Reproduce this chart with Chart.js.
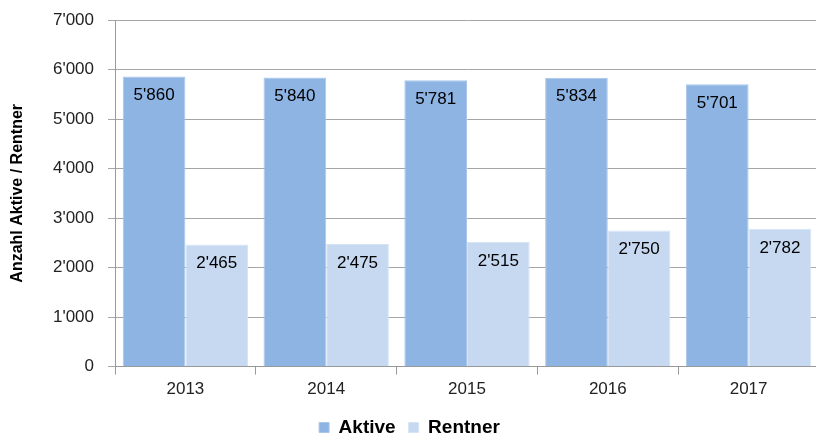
<!DOCTYPE html>
<html><head><meta charset="utf-8">
<script src="https://cdn.jsdelivr.net/npm/chart.js@4"></script>
<style>html,body{margin:0;padding:0;background:#fff;overflow:hidden;}#wrap{width:816px;height:433px;overflow:hidden;}</style>
</head><body><div id="wrap"><canvas id="c" width="819" height="433"></canvas></div>
<script>
const years = ['2013','2014','2015','2016','2017'];
const aktive = [5860, 5840, 5781, 5834, 5701];
const rentner = [2465, 2475, 2515, 2750, 2782];
const yTicks = [0,1000,2000,3000,4000,5000,6000,7000];
const fmt = v => String(v).replace(/\B(?=(\d{3})+(?!\d))/g, "'");
const font = "'Liberation Sans', Arial, sans-serif";

const labelPlugin = {
  id: 'barLabels',
  afterDatasetsDraw(chart) {
    const ctx = chart.ctx;
    ctx.save();
    ctx.font = '17px ' + font;
    ctx.fillStyle = '#000';
    ctx.textAlign = 'center';
    ctx.textBaseline = 'middle';
    chart.data.datasets.forEach((ds, i) => {
      chart.getDatasetMeta(i).data.forEach((bar, j) => {
        ctx.fillText(fmt(ds.data[j]), bar.x, bar.y + 19);
      });
    });
    ctx.restore();
  }
};

new Chart(document.getElementById('c'), {
  type: 'bar',
  data: {
    labels: years,
    datasets: [
      {label: 'Aktive', data: aktive, backgroundColor: '#8EB4E3', borderColor: '#A9C6EA', borderWidth: 1},
      {label: 'Rentner', data: rentner, backgroundColor: '#C6D9F1', borderColor: '#D6E3F5', borderWidth: 1}
    ]
  },
  options: {
    responsive: false,
    animation: false,
    devicePixelRatio: 1,
    layout: {padding: {left: 0, right: 0, top: 20, bottom: -14}},
    datasets: {bar: {categoryPercentage: 0.89, barPercentage: 1.0}},
    scales: {
      x: {
        grid: {offset: true, drawOnChartArea: false, tickLength: 8, color: '#999'},
        border: {color: '#999'},
        ticks: {color: '#222', font: {family: font, size: 17}, padding: 5}
      },
      y: {
        min: 0, max: 7000,
        afterBuildTicks: s => { s.ticks = yTicks.map(v => ({value: v})); },
        afterFit: s => { s.width = 115; s.paddingTop = 0; s.paddingBottom = 0; },
        grid: {color: '#A6A6A6', tickLength: 7},
        border: {color: '#999'},
        ticks: {color: '#222', font: {family: font, size: 17}, padding: 14, callback: v => fmt(v)},
        title: {display: true, text: 'Anzahl Aktive / Rentner', color: '#000', font: {family: font, size: 16, weight: 'bold'}, padding: {top: 8, bottom: 0}}
      }
    },
    plugins: {
      tooltip: {enabled: false},
      legend: {
        position: 'bottom',
        labels: {boxWidth: 10, boxHeight: 10, color: '#000', padding: 13, font: {family: font, size: 19, weight: 'bold'}}
      }
    }
  },
  plugins: [labelPlugin]
});
</script></body></html>
